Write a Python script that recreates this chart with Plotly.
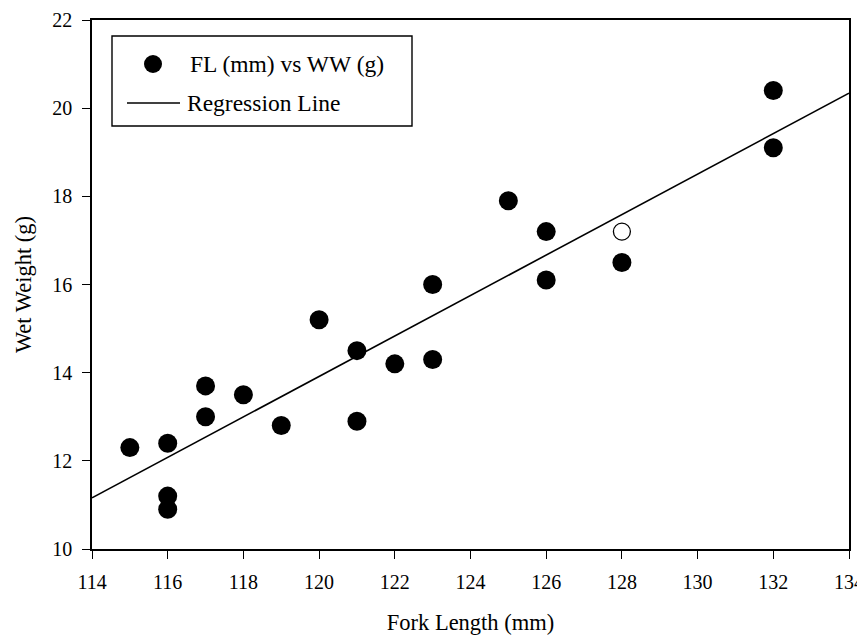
import plotly.graph_objects as go

fork_length = [115, 116, 116, 116, 117, 117, 118, 119, 120, 121, 121, 122, 123, 123,
               125, 126, 126, 128, 132, 132]
wet_weight = [12.3, 12.4, 11.2, 10.9, 13.7, 13.0, 13.5, 12.8, 15.2, 14.5, 12.9, 14.2,
              16.0, 14.3, 17.9, 17.2, 16.1, 16.5, 20.4, 19.1]
outlier_fl = [128]
outlier_ww = [17.2]
reg_x = [114, 134]
reg_y = [11.16, 20.34]
legend_labels = ["FL (mm) vs WW (g)", "Regression Line"]

font = "Liberation Serif"

# The page body has an 8px margin, so the figure is sized/margined to compensate.
W, H = 857, 628
ML, MR, MT, MB = 84, 16, 12, 87
PW, PH = W - ML - MR, H - MT - MB
OFF = 8


def px(x):
    return (x - OFF - ML) / PW


def py(y):
    return (H - MB - (y - OFF)) / PH


fig = go.Figure()
fig.add_trace(go.Scatter(x=fork_length, y=wet_weight, mode="markers",
                         name=legend_labels[0],
                         marker=dict(size=19, color="black", line=dict(width=0)),
                         cliponaxis=False))
fig.add_trace(go.Scatter(x=reg_x, y=reg_y, mode="lines", name=legend_labels[1],
                         line=dict(color="black", width=1.6)))
fig.add_trace(go.Scatter(x=outlier_fl, y=outlier_ww, mode="markers",
                         marker=dict(size=17, color="white", line=dict(color="black", width=1.3))))

axis_common = dict(showline=True, linecolor="black", linewidth=1.6, mirror=True,
                   ticks="outside", ticklen=8, tickwidth=1.4, tickcolor="black",
                   showgrid=False, zeroline=False, automargin=False,
                   ticklabelstandoff=6,
                   tickfont=dict(family=font, size=20, color="black"))

# manual legend
shapes = [
    dict(type="rect", xref="paper", yref="paper", x0=px(112), x1=px(412), y0=py(126), y1=py(36),
         line=dict(color="black", width=1.4), fillcolor="white", layer="above"),
    dict(type="circle", xref="paper", yref="paper", xsizemode="pixel", ysizemode="pixel",
         xanchor=px(153), yanchor=py(64), x0=-9, x1=9, y0=-9, y1=9,
         fillcolor="black", line=dict(width=0), layer="above"),
    dict(type="line", xref="paper", yref="paper", x0=px(127), x1=px(180), y0=py(103), y1=py(103),
         line=dict(color="black", width=1.6), layer="above"),
]
annotations = [
    dict(text=legend_labels[0], xref="paper", yref="paper", x=px(188), y=py(64),
         xanchor="left", yanchor="middle", showarrow=False,
         font=dict(family=font, size=23.5, color="black")),
    dict(text=legend_labels[1], xref="paper", yref="paper", x=px(185), y=py(103),
         xanchor="left", yanchor="middle", showarrow=False,
         font=dict(family=font, size=23.5, color="black")),
]

fig.update_layout(
    width=W, height=H,
    margin=dict(l=ML, r=MR, t=MT, b=MB),
    paper_bgcolor="white", plot_bgcolor="white",
    font=dict(family=font, size=20, color="black"),
    xaxis=dict(range=[114, 134], dtick=2, **axis_common,
               title=dict(text="Fork Length (mm)", font=dict(family=font, size=22.5), standoff=22)),
    yaxis=dict(range=[10, 22], dtick=2, **axis_common,
               title=dict(text="Wet Weight (g)", font=dict(family=font, size=22.5), standoff=14)),
    showlegend=False,
    shapes=shapes,
    annotations=annotations,
)

fig.write_html("out.html")
